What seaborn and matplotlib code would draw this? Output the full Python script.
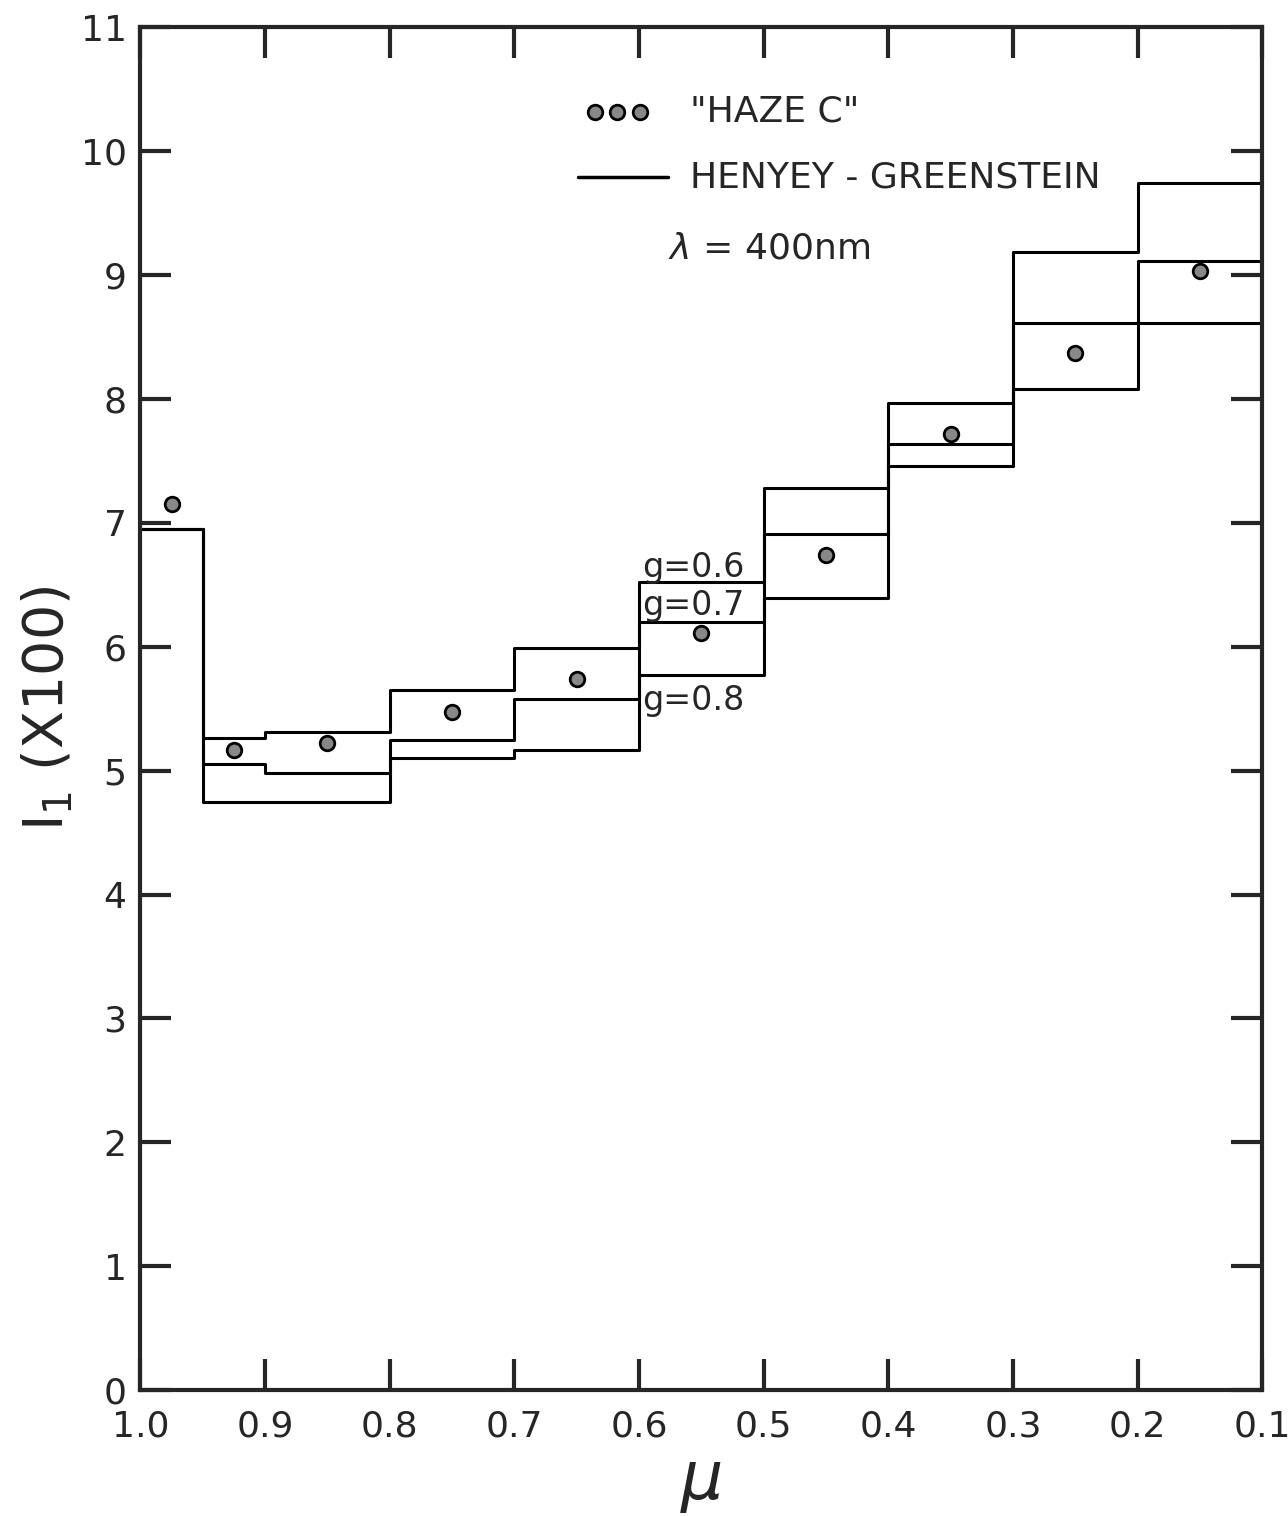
import numpy as np
import pandas as pd
import matplotlib
matplotlib.use('Agg')
import matplotlib.pyplot as plt
import seaborn as sns

# bin edges in mu (left to right, decreasing)
edges = [1.0, 0.95, 0.9, 0.8, 0.7, 0.6, 0.5, 0.4, 0.3, 0.2, 0.1]
g06 = [6.95, 5.26, 5.31, 5.65, 5.99, 6.52, 7.28, 7.97, 9.19, 9.74]
g07 = [6.95, 5.05, 4.98, 5.25, 5.58, 6.20, 6.91, 7.64, 8.61, 9.11]
g08 = [6.95, 4.75, 4.75, 5.10, 5.17, 5.77, 6.39, 7.46, 8.08, 8.61]

haze_mu = [0.975, 0.925, 0.85, 0.75, 0.65, 0.55, 0.45, 0.35, 0.25, 0.15]
haze_i = [7.15, 5.17, 5.22, 5.47, 5.74, 6.11, 6.74, 7.72, 8.37, 9.03]

sns.set_theme(style='ticks')
plt.rcParams['font.family'] = ['DejaVu Sans']

fig = plt.figure(figsize=(12.88, 15.16), dpi=100)
ax = fig.add_axes([0.109, 0.083, 0.871, 0.899])

rows = []
for name, vals in [('g=0.6', g06), ('g=0.7', g07), ('g=0.8', g08)]:
    for x, y in zip(edges, vals + [vals[-1]]):
        rows.append({'mu': x, 'I': y, 'g': name})
steps = pd.DataFrame(rows)
for name, d in steps.groupby('g'):
    sns.lineplot(data=d, x='mu', y='I', ax=ax, color='black', lw=2.2,
                 drawstyle='steps-post', sort=False, estimator=None)

pts = pd.DataFrame({'mu': haze_mu, 'I': haze_i})
sns.scatterplot(data=pts, x='mu', y='I', ax=ax, s=110, color='#888888',
                edgecolor='black', linewidth=2, zorder=5)

ax.set_xlim(1.0, 0.1)
ax.set_ylim(0, 11)
ax.set_xticks([1.0, 0.9, 0.8, 0.7, 0.6, 0.5, 0.4, 0.3, 0.2, 0.1])
ax.set_xticklabels(['1.0', '0.9', '0.8', '0.7', '0.6', '0.5', '0.4', '0.3', '0.2', '0.1'])
ax.set_yticks(range(12))
ax.tick_params(direction='in', length=22, width=3, labelsize=26,
               top=True, right=True)
ax.tick_params(axis='x', pad=14)
ax.tick_params(axis='y', pad=10)
for s in ax.spines.values():
    s.set_linewidth(3)
ax.set_xlabel(r'$\mu$', fontsize=48)
ax.set_ylabel(r'$\mathrm{I}_1$ (X100)', fontsize=40)

# legend
for i, xx in enumerate([0.405, 0.425, 0.445]):
    ax.scatter(xx, 0.938, transform=ax.transAxes, s=110, color='#888888',
               edgecolor='black', linewidth=2, zorder=6)
ax.text(0.49, 0.938, '"HAZE C"', transform=ax.transAxes, fontsize=26, va='center')
ax.plot([0.39, 0.47], [0.89, 0.89], transform=ax.transAxes, color='black', lw=2.5)
ax.text(0.49, 0.89, 'HENYEY - GREENSTEIN', transform=ax.transAxes, fontsize=26, va='center')
ax.text(0.47, 0.838, r'$\lambda$ = 400nm', transform=ax.transAxes, fontsize=26, va='center')

ax.text(0.447, 0.597, 'g=0.6', transform=ax.transAxes, fontsize=24)
ax.text(0.447, 0.569, 'g=0.7', transform=ax.transAxes, fontsize=24)
ax.text(0.447, 0.499, 'g=0.8', transform=ax.transAxes, fontsize=24)

fig.savefig('out.png', dpi=100)
